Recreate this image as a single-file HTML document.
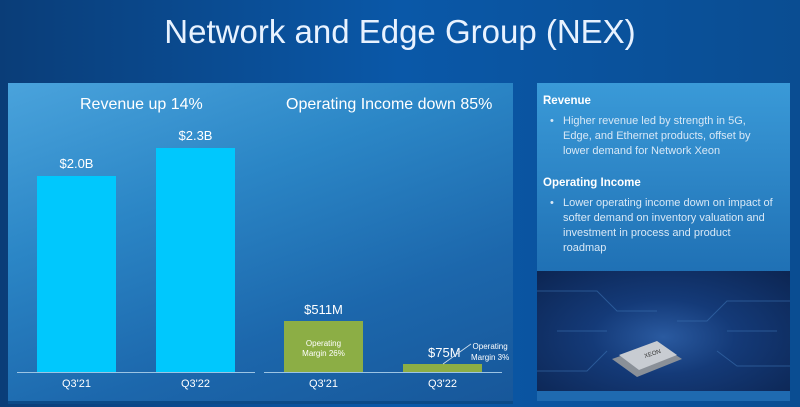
<!DOCTYPE html>
<html><head><meta charset="utf-8"><style>
body{margin:0;width:800px;height:407px;overflow:hidden;background:linear-gradient(90deg,#0a3d78 0%,#0a58a8 50%,#0a4d92 100%);font-family:"Liberation Sans",sans-serif;color:#fff;position:relative}
.a{position:absolute}
.t{white-space:nowrap}
</style></head><body>
<div class="a t" style="left:0;width:800px;top:13px;text-align:center;font-size:33px;color:#e8f2ff">Network and Edge Group (NEX)</div>
<div class="a" style="left:8px;top:83px;width:505px;height:318px;background:linear-gradient(160deg,#4aa3dc 0%,#2b86c6 35%,#1c67ac 70%,#17579a 100%);border-bottom:3px solid #0b4a88"></div>
<div class="a t" style="left:80px;top:96px;font-size:16px">Revenue up 14%</div>
<div class="a t" style="left:286px;top:96px;font-size:16px">Operating Income down 85%</div>
<div class="a t" style="left:37px;width:79px;text-align:center;top:156px;font-size:13px">$2.0B</div>
<div class="a" style="left:37px;top:176px;width:79px;height:196px;background:#00c8fd"></div>
<div class="a t" style="left:156px;width:79px;text-align:center;top:128px;font-size:13px">$2.3B</div>
<div class="a" style="left:156px;top:148px;width:79px;height:224px;background:#00c8fd"></div>
<div class="a" style="left:17px;top:372px;width:238px;height:1px;background:#9cc4e4"></div>
<div class="a" style="left:264px;top:372px;width:238px;height:1px;background:#9cc4e4"></div>
<div class="a t" style="left:37px;width:79px;text-align:center;top:378px;font-size:11px">Q3'21</div>
<div class="a t" style="left:156px;width:79px;text-align:center;top:378px;font-size:11px">Q3'22</div>
<div class="a t" style="left:284px;width:79px;text-align:center;top:378px;font-size:11px">Q3'21</div>
<div class="a t" style="left:403px;width:79px;text-align:center;top:378px;font-size:11px">Q3'22</div>
<div class="a t" style="left:284px;width:79px;text-align:center;top:302px;font-size:13px">$511M</div>
<div class="a" style="left:284px;top:321px;width:79px;height:51px;background:#8cae45"></div>
<div class="a" style="left:284px;width:79px;text-align:center;top:339px;font-size:8px;line-height:10px">Operating<br>Margin 26%</div>
<div class="a" style="left:403px;top:364px;width:79px;height:8px;background:#8cae45"></div>
<div class="a t" style="left:428px;top:345px;font-size:13px">$75M</div>
<svg class="a" style="left:440px;top:340px" width="40" height="30"><line x1="3" y1="24" x2="31" y2="4" stroke="#cfe0ee" stroke-width="0.8"/></svg>
<div class="a" style="left:471px;top:341px;font-size:8px;line-height:11px;text-align:center">Operating<br>Margin 3%</div>
<div class="a" style="left:537px;top:83px;width:253px;height:318px;background:linear-gradient(180deg,#3a9ad8 0%,#1f70b4 60%,#1a64a8 100%)"></div>
<div class="a t" style="left:543px;top:95px;font-size:11.5px;font-weight:bold">Revenue</div>
<div class="a" style="left:550px;top:114px;width:235px;font-size:11px;line-height:15px;color:#d8e8f6">•<span style="position:absolute;left:13px;width:200px">Higher revenue led by strength in 5G, Edge, and Ethernet products, offset by lower demand for Network Xeon</span></div>
<div class="a t" style="left:543px;top:177px;font-size:11.5px;font-weight:bold">Operating Income</div>
<div class="a" style="left:550px;top:196px;width:235px;font-size:11px;line-height:15px;color:#d8e8f6">•<span style="position:absolute;left:13px;width:210px">Lower operating income down on impact of softer demand on inventory valuation and investment in process and product roadmap</span></div>
<div class="a" style="left:537px;top:271px;width:253px;height:120px;background:radial-gradient(ellipse at 50% 55%,#2a5aa0 0%,#143a78 40%,#0c2552 100%)"></div>
<svg class="a" style="left:537px;top:271px" width="253" height="120">
<g stroke="#3a70b0" stroke-width="1" fill="none" opacity="0.6">
<path d="M0 20 H60 L80 40 H120"/><path d="M253 30 H190 L170 50 H140"/><path d="M0 100 H50 L70 80"/><path d="M253 95 H200 L180 80"/><path d="M20 60 H70"/><path d="M190 60 H240"/>
</g>
<polygon points="75,88 120,72 145,88 100,106" fill="#8a9098"/>
<polygon points="82,84 120,70 140,84 102,99" fill="#c8ccd2"/>
<text x="108" y="87" font-size="6" fill="#333" font-family="Liberation Sans" transform="rotate(-18 108 87)">XEON</text>
</svg>
<div class="a" style="left:537px;top:391px;width:253px;height:10px;background:#1f6ab0"></div>
</body></html>
